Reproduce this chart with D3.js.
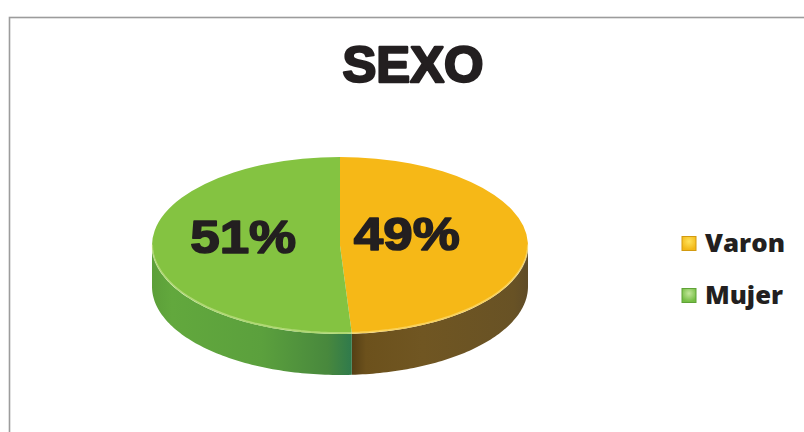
<!DOCTYPE html>
<html>
<head>
<meta charset="utf-8">
<script src="https://cdn.jsdelivr.net/npm/d3@7"></script>
<style>
  html, body { margin: 0; padding: 0; background: #ffffff; }
  svg { display: block; }
</style>
</head>
<body>
<svg id="chart" width="804" height="432"></svg>
<script>
// Data
const categories = ["Varon", "Mujer"];
const shares = [49, 51];
const labels = ["49%", "51%"];
const topColors = ["#f6b817", "#84c341"];
const title = "SEXO";

const svg = d3.select("#chart");

// Frame of the chart area
svg.append("rect")
  .attr("x", 9.5).attr("y", 17.5)
  .attr("width", 900).attr("height", 500)
  .attr("fill", "none")
  .attr("stroke", "#9c9c9c")
  .attr("stroke-width", 1.6);

// Title
svg.append("text")
  .attr("x", 413).attr("y", 82)
  .attr("text-anchor", "middle")
  .attr("font-family", "Liberation Sans, Arial, sans-serif")
  .attr("font-weight", 700)
  .attr("font-size", 50)
  .attr("fill", "#231f20")
  .attr("stroke", "#231f20")
  .attr("stroke-width", 2.4)
  .attr("stroke-linejoin", "round")
  .attr("textLength", 141)
  .attr("lengthAdjust", "spacingAndGlyphs")
  .text(title);

// 3D pie geometry
const cx = 340, cy = 245.5, rx = 188, ry = 88.5, depth = 41;
const pie = d3.pie().sort(null).value(d => d);
const arcs = pie(shares);

const defs = svg.append("defs");

// Side wall gradients
const sideStops = [
  // Varon side (from split toward right edge)
  [["0", "#5f4c28"], ["0.08", "#685225"], ["0.6", "#705622"], ["0.92", "#6c511c"], ["1", "#553f15"]],
  // Mujer side (from left edge toward split)
  [["0", "#5c9f39"], ["0.1", "#62a83d"], ["0.55", "#5ba03d"], ["0.88", "#48883d"], ["1", "#2f7a4c"]]
];
const pt = (a, dy) => [cx + rx * Math.sin(a), cy - ry * Math.cos(a) + dy];

arcs.forEach((d, i) => {
  const a0 = Math.max(d.startAngle, Math.PI / 2);
  const a1 = Math.min(d.endAngle, 3 * Math.PI / 2);
  if (a1 <= a0) return;
  const xs = [pt(a0, 0)[0], pt(a1, 0)[0]];
  const g = defs.append("linearGradient")
    .attr("id", "side" + i)
    .attr("gradientUnits", "userSpaceOnUse")
    .attr("x1", i === 0 ? xs[0] : xs[1]).attr("y1", 0)
    .attr("x2", i === 0 ? xs[1] : xs[0]).attr("y2", 0);
  sideStops[i].forEach(s => g.append("stop").attr("offset", s[0]).attr("stop-color", s[1]));

  const n = 80;
  const angles = d3.range(n + 1).map(k => a0 + (a1 - a0) * k / n);
  const pts = angles.map(a => pt(a, 0)).concat(angles.slice().reverse().map(a => pt(a, depth)));
  svg.append("path")
    .attr("d", d3.line()(pts) + "Z")
    .attr("fill", `url(#side${i})`);
});

// Top faces drawn with d3.arc on a unit circle, stretched into an ellipse
const arcGen = d3.arc().innerRadius(0).outerRadius(1);
const topFace = svg.append("g").attr("transform", `translate(${cx},${cy}) scale(${rx},${ry})`);
topFace.selectAll("path.slice")
  .data(arcs)
  .join("path")
  .attr("class", "slice")
  .attr("d", arcGen)
  .attr("fill", (d, i) => topColors[i]);

// Soft highlight along the front rim of the top face
const rimAngles = d3.range(0, 61).map(k => Math.PI / 2 + Math.PI * k / 60);
svg.append("path")
  .attr("d", d3.line()(rimAngles.map(a => pt(a, -1))))
  .attr("fill", "none")
  .attr("stroke", "rgba(255,255,210,0.35)")
  .attr("stroke-width", 2);

// Percentage labels, placed from each slice's mid angle
const labelOffset = [[-14, 0], [-16, 0]];
arcs.forEach((d, i) => {
  const mid = (d.startAngle + d.endAngle) / 2;
  const p = [cx + rx * 0.43 * Math.sin(mid), cy - ry * 0.43 * Math.cos(mid)];
  svg.append("text")
    .attr("x", p[0] + labelOffset[i][0])
    .attr("y", p[1] + labelOffset[i][1] + 6)
    .attr("text-anchor", "middle")
    .attr("font-family", "Liberation Sans, Arial, sans-serif")
    .attr("font-weight", 700)
    .attr("font-size", 46)
    .attr("fill", "#231f20")
    .attr("stroke", "#231f20")
    .attr("stroke-width", 1.6)
    .attr("stroke-linejoin", "round")
    .attr("textLength", 106)
    .attr("lengthAdjust", "spacingAndGlyphs")
    .text(labels[i]);
});

// Legend
const legendMarker = [
  { fill: "#f3b817", light: "#ffe25a", edge: "#d29a10" },
  { fill: "#74bd43", light: "#c2e69a", edge: "#5fa236" }
];
const legendY = d3.scalePoint().domain(categories).range([243.5, 295.5]);
categories.forEach((c, i) => {
  const y = legendY(c);
  const m = legendMarker[i];
  const g = defs.append("radialGradient")
    .attr("id", "lg" + i)
    .attr("cx", "0.5").attr("cy", "0.35").attr("r", "0.6");
  g.append("stop").attr("offset", "0").attr("stop-color", m.light);
  g.append("stop").attr("offset", "1").attr("stop-color", m.fill);
  svg.append("rect")
    .attr("x", 682).attr("y", y - 7)
    .attr("width", 14).attr("height", 14)
    .attr("fill", `url(#lg${i})`)
    .attr("stroke", m.edge)
    .attr("stroke-width", 1);
  svg.append("text")
    .attr("x", 705).attr("y", y + 8.5)
    .attr("font-family", "Open Sans, sans-serif")
    .attr("font-weight", 800)
    .attr("font-size", 24)
    .attr("fill", "#231f20")
    .attr("textLength", i === 0 ? 80 : 78)
    .attr("lengthAdjust", "spacingAndGlyphs")
    .text(c);
});
</script>
</body>
</html>
